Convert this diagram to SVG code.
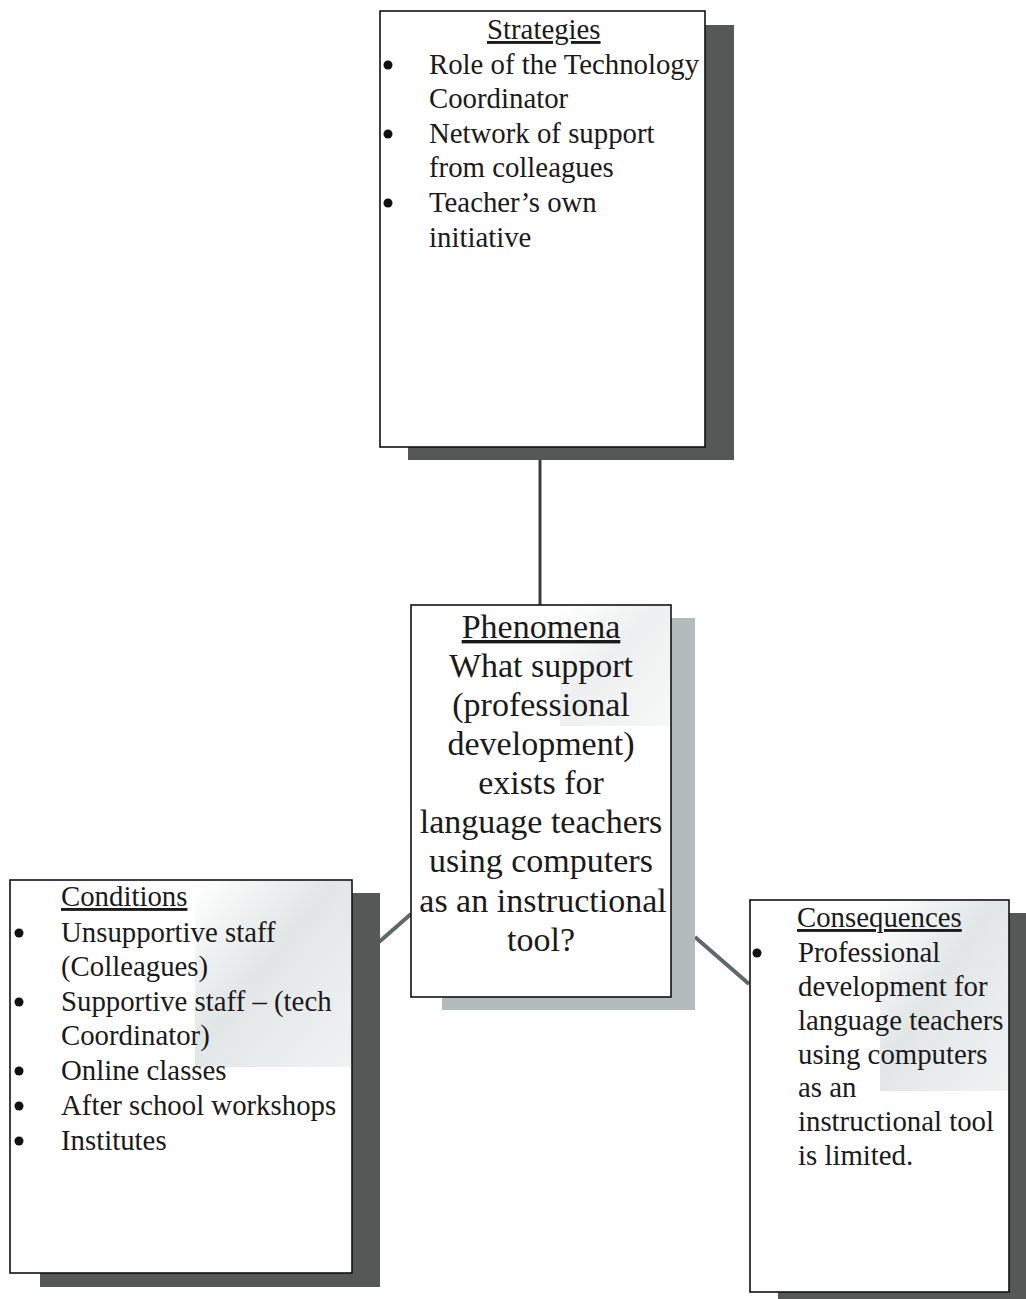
<svg xmlns="http://www.w3.org/2000/svg" width="1026" height="1299" viewBox="0 0 1026 1299">
  <defs>
    <style>
      .box { fill: #ffffff; stroke: #111111; stroke-width: 1.6; }
      .shadow-dark { fill: #565858; }
      .shadow-light { fill: #b3bbbb; }
      .txt { font-family: "Liberation Serif", "Times New Roman", serif; font-size: 28.8px; fill: #1a1a1a; }
      .big { font-family: "Liberation Serif", "Times New Roman", serif; font-size: 34px; fill: #1a1a1a; text-anchor: middle; }
      .head { text-decoration: underline; }
      .bullet { fill: #111111; }
      .link { stroke: #5e6868; stroke-width: 4; fill: none; stroke-linecap: butt; }
      .stem { stroke: #3c3c3c; stroke-width: 3; fill: none; }
    </style>
    <linearGradient id="haze" x1="0" y1="0" x2="1" y2="1">
      <stop offset="0" stop-color="#c9d1d1" stop-opacity="0"/>
      <stop offset="0.45" stop-color="#c9d1d1" stop-opacity="0.55"/>
      <stop offset="1" stop-color="#d5dbdb" stop-opacity="0.35"/>
    </linearGradient>
  </defs>

  <rect width="1026" height="1299" fill="#ffffff"/>

  <!-- connectors -->
  <g id="connectors">
    <line class="stem" x1="540" y1="458" x2="540" y2="605"/>
    <line class="link" x1="411" y1="914" x2="379" y2="942"/>
    <line class="link" x1="695" y1="937" x2="749" y2="984"/>
  </g>

  <!-- Strategies -->
  <g id="strategies">
    <rect class="shadow-dark" x="408" y="25" width="326" height="435"/>
    <rect class="box" x="380" y="11" width="325" height="436"/>
    <text class="txt head" x="487" y="39">Strategies</text>
    <circle class="bullet" cx="388" cy="65" r="4.5"/>
    <text class="txt" x="429" y="74">Role of the Technology</text>
    <text class="txt" x="429" y="108">Coordinator</text>
    <circle class="bullet" cx="388" cy="134" r="4.5"/>
    <text class="txt" x="429" y="143">Network of support</text>
    <text class="txt" x="429" y="177">from colleagues</text>
    <circle class="bullet" cx="388" cy="203" r="4.5"/>
    <text class="txt" x="429" y="212">Teacher’s own</text>
    <text class="txt" x="429" y="247">initiative</text>
  </g>

  <!-- Phenomena -->
  <g id="phenomena">
    <rect class="shadow-light" x="442" y="618" width="253" height="392"/>
    <rect class="box" x="411" y="605" width="260" height="392"/>
    <rect x="560" y="606" width="110" height="120" fill="url(#haze)" opacity="0.6"/>
    <text class="big head" x="541" y="638">Phenomena</text>
    <text class="big" x="541" y="677">What support</text>
    <text class="big" x="541" y="716">(professional</text>
    <text class="big" x="541" y="755">development)</text>
    <text class="big" x="541" y="794">exists for</text>
    <text class="big" x="541" y="833">language teachers</text>
    <text class="big" x="541" y="872">using computers</text>
    <text class="big" x="543" y="912">as an instructional</text>
    <text class="big" x="541" y="951">tool?</text>
  </g>

  <!-- Conditions -->
  <g id="conditions">
    <rect class="shadow-dark" x="40" y="893" width="340" height="394"/>
    <rect class="box" x="10" y="880" width="342" height="393"/>
    <rect x="195" y="881" width="156" height="186" fill="url(#haze)"/>
    <text class="txt head" x="61" y="906">Conditions</text>
    <circle class="bullet" cx="19" cy="933" r="4.5"/>
    <text class="txt" x="61" y="942">Unsupportive staff</text>
    <text class="txt" x="61" y="976">(Colleagues)</text>
    <circle class="bullet" cx="19" cy="1002" r="4.5"/>
    <text class="txt" x="61" y="1011">Supportive staff – (tech</text>
    <text class="txt" x="61" y="1045">Coordinator)</text>
    <circle class="bullet" cx="19" cy="1071" r="4.5"/>
    <text class="txt" x="61" y="1080">Online classes</text>
    <circle class="bullet" cx="19" cy="1106" r="4.5"/>
    <text class="txt" x="61" y="1115">After school workshops</text>
    <circle class="bullet" cx="19" cy="1141" r="4.5"/>
    <text class="txt" x="61" y="1150">Institutes</text>
  </g>

  <!-- Consequences -->
  <g id="consequences">
    <rect class="shadow-dark" x="778" y="913" width="270" height="400"/>
    <rect class="box" x="750" y="900" width="259" height="392"/>
    <rect x="880" y="901" width="128" height="190" fill="url(#haze)"/>
    <text class="txt head" x="797" y="927">Consequences</text>
    <circle class="bullet" cx="757" cy="953" r="4.5"/>
    <text class="txt" x="798" y="962">Professional</text>
    <text class="txt" x="798" y="996">development for</text>
    <text class="txt" x="798" y="1030">language teachers</text>
    <text class="txt" x="798" y="1064">using computers</text>
    <text class="txt" x="798" y="1097">as an</text>
    <text class="txt" x="798" y="1131">instructional tool</text>
    <text class="txt" x="798" y="1165">is limited.</text>
  </g>
</svg>
